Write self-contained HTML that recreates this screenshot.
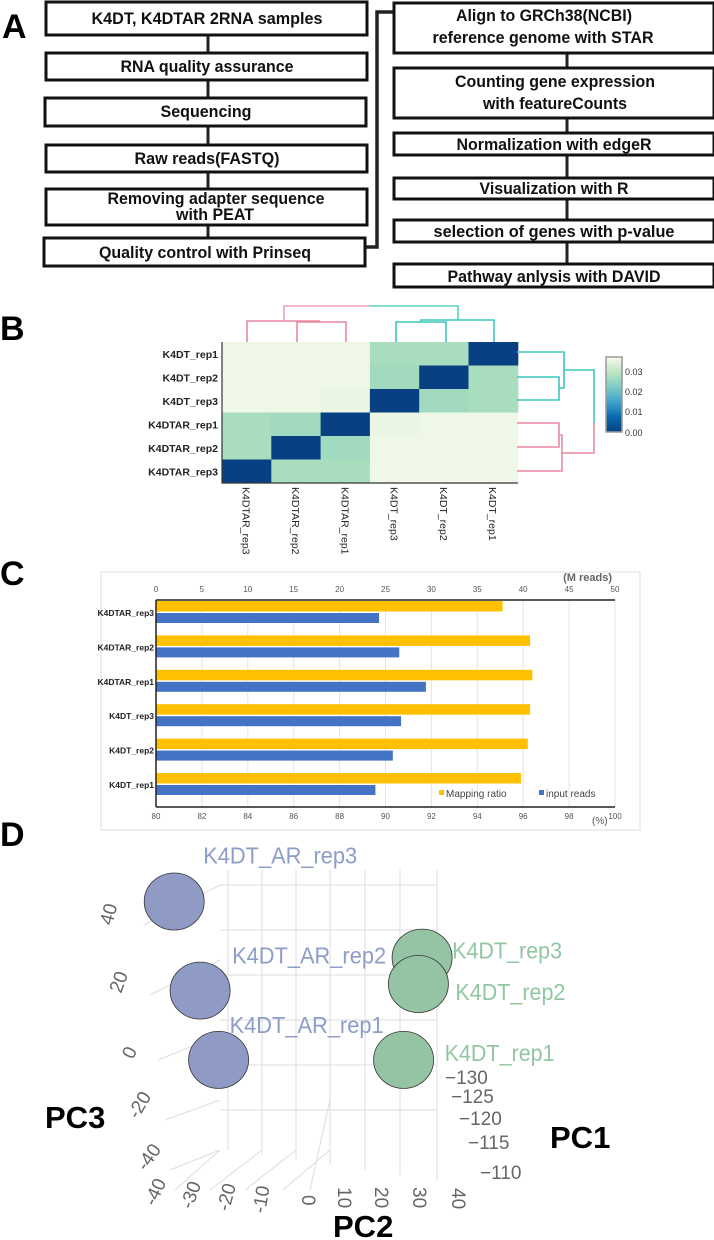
<!DOCTYPE html>
<html><head><meta charset="utf-8"><style>
html,body{margin:0;padding:0;background:#fff;}
svg{display:block;font-family:"Liberation Sans",Arial,sans-serif;}
.bx{fill:#fff;stroke:#111;stroke-width:3;}
.ft{font-weight:bold;font-size:17px;fill:#111;text-anchor:middle;}
</style></head><body>
<svg id="fig" width="714" height="1240" viewBox="0 0 714 1240">
<!-- Panel A -->
<g>
<text x="2" y="38" font-size="34" font-weight="bold">A</text>
<path d="M208 35V53M208 80V98M208 126V145M208 172V189M208 225V238M567 53V68M567 118V133M567 155V178M567 199V220M567 242V264" stroke="#222" stroke-width="3" fill="none"/>
<path d="M365 247H377V12H394" stroke="#222" stroke-width="3.5" fill="none"/>
<g><rect class="bx" x="46" y="2" width="321" height="33"/><text class="ft" x="207" y="24" textLength="231" lengthAdjust="spacingAndGlyphs">K4DT, K4DTAR 2RNA samples</text></g>
<g><rect class="bx" x="46" y="53" width="321" height="27"/><text class="ft" x="207" y="72" textLength="173" lengthAdjust="spacingAndGlyphs">RNA quality assurance</text></g>
<g><rect class="bx" x="45" y="98" width="321" height="28"/><text class="ft" x="206" y="117" textLength="91" lengthAdjust="spacingAndGlyphs">Sequencing</text></g>
<g><rect class="bx" x="46" y="145" width="321" height="27"/><text class="ft" x="207" y="164" textLength="145" lengthAdjust="spacingAndGlyphs">Raw reads(FASTQ)</text></g>
<g><rect class="bx" x="46" y="189" width="321" height="36"/><text class="ft" x="216" y="204" textLength="217" lengthAdjust="spacingAndGlyphs">Removing adapter sequence</text><text class="ft" x="215" y="220" textLength="78" lengthAdjust="spacingAndGlyphs">with PEAT</text></g>
<g><rect class="bx" x="44" y="238" width="321" height="28"/><text class="ft" x="205" y="258" textLength="212" lengthAdjust="spacingAndGlyphs">Quality control with Prinseq</text></g>
<g><rect class="bx" x="394" y="3" width="320" height="50"/><text class="ft" x="544" y="21" textLength="176" lengthAdjust="spacingAndGlyphs">Align to GRCh38(NCBI)</text><text class="ft" x="543" y="43" textLength="221" lengthAdjust="spacingAndGlyphs">reference genome with STAR</text></g>
<g><rect class="bx" x="394" y="68" width="320" height="50"/><text class="ft" x="555" y="87" textLength="200" lengthAdjust="spacingAndGlyphs">Counting gene expression</text><text class="ft" x="555" y="109" textLength="144" lengthAdjust="spacingAndGlyphs">with featureCounts</text></g>
<g><rect class="bx" x="394" y="133" width="320" height="22"/><text class="ft" x="554" y="150" textLength="195" lengthAdjust="spacingAndGlyphs">Normalization with edgeR</text></g>
<g><rect class="bx" x="394" y="178" width="320" height="21"/><text class="ft" x="554" y="194" textLength="149" lengthAdjust="spacingAndGlyphs">Visualization with R</text></g>
<g><rect class="bx" x="394" y="220" width="320" height="22"/><text class="ft" x="554" y="237" textLength="241" lengthAdjust="spacingAndGlyphs">selection of  genes with p-value</text></g>
<g><rect class="bx" x="394" y="264" width="320" height="23"/><text class="ft" x="554" y="282" textLength="213" lengthAdjust="spacingAndGlyphs">Pathway anlysis with DAVID</text></g>
</g>
<!-- Panel B -->
<text x="0" y="340" font-size="34" font-weight="bold">B</text>
<g id="heat"></g>
<g fill="none" stroke-width="1.6">
<path d="M284 321V306H370" stroke="#f0a0b4"/><path d="M370 306H458V320" stroke="#58d4c8"/>
<path d="M247 342V321H320M301 321V322M297 342V322H346V342" stroke="#e88aa0"/>
<path d="M396 342V322H446V342M421 322V320H494V342" stroke="#3cc8bc"/>
<path d="M517 352H564V388H559M517 377H559V400H517M564 370H594V423" stroke="#3cc8bc"/>
<path d="M517 423H559V447H517M559 435H562V471H517M562 453H594V423" stroke="#e88aa0"/>
</g>
<g>
<defs><linearGradient id="gnbu" x1="0" y1="1" x2="0" y2="0"><stop offset="0" stop-color="#084081"/><stop offset="0.2" stop-color="#0868ac"/><stop offset="0.4" stop-color="#43a2ca"/><stop offset="0.6" stop-color="#7bccc4"/><stop offset="0.8" stop-color="#bfe5c0"/><stop offset="1" stop-color="#f7fcf0"/></linearGradient></defs>
<rect x="606" y="357" width="16" height="75" fill="url(#gnbu)" stroke="#999" stroke-width="1.5"/>
<g font-size="9" fill="#333"><text x="625" y="375">0.03</text><text x="625" y="395">0.02</text><text x="625" y="415">0.01</text><text x="625" y="436">0.00</text></g>
</g>
<!-- Panel C -->
<text x="0" y="585" font-size="34" font-weight="bold">C</text>
<rect x="101" y="572" width="539" height="258" fill="none" stroke="#e2e2e2" stroke-width="1.2"/>
<g id="bars"></g>
<!-- Panel D -->
<text x="0" y="846" font-size="34" font-weight="bold">D</text>
<g stroke="#ddd" stroke-width="1" fill="none">
<path d="M220 885H437M220 930H437M220 975H437M220 1020H437M220 1065H437M220 1110H437"/>
<path d="M144 925L220 885M150 995L220 960M158 1060L220 1035M165 1120L220 1100M170 1170L220 1150"/>
<path d="M228 870V1150M262 870V1155M296 870V1160M330 870V1165M365 870V1170M400 870V1175M437 870V1180"/>
<path d="M175 1190L220 1150M210 1190L262 1150M245 1190L296 1150M283 1190L330 1150M310 1190L330 1100" />
</g>
<g id="pca"></g>
<g font-size="19" fill="#666">
<text transform="translate(112,926) rotate(-75)">40</text>
<text transform="translate(121,994) rotate(-70)">20</text>
<text transform="translate(133,1060) rotate(-65)">0</text>
<text transform="translate(138,1120) rotate(-60)">-20</text>
<text transform="translate(146,1172) rotate(-55)">-40</text>
<text transform="translate(155,1207) rotate(-65)">-40</text>
<text transform="translate(192,1210) rotate(-70)">-30</text>
<text transform="translate(229,1212) rotate(-75)">-20</text>
<text transform="translate(265,1214) rotate(-80)">-10</text>
<text transform="translate(302,1195) rotate(90)">0</text>
<text transform="translate(338,1187) rotate(90)">10</text>
<text transform="translate(375,1187) rotate(90)">20</text>
<text transform="translate(413,1187) rotate(90)">30</text>
<text transform="translate(452,1188) rotate(90)">40</text>
<text x="445" y="1084">−130</text><text x="451" y="1103">−125</text><text x="459" y="1125">−120</text><text x="468" y="1149">−115</text><text x="480" y="1179">−110</text>
</g>
<text x="45" y="1128" font-size="31" font-weight="bold">PC3</text>
<text x="550" y="1148" font-size="31" font-weight="bold">PC1</text>
<text x="333" y="1237" font-size="31" font-weight="bold">PC2</text>
</svg>
<script>
const NS="http://www.w3.org/2000/svg";
function mk(tag,attrs,parent){const e=document.createElementNS(NS,tag);for(const k in attrs)e.setAttribute(k,attrs[k]);parent.appendChild(e);return e;}
// ---- Heatmap data ----
const rowLabels=["K4DT_rep1","K4DT_rep2","K4DT_rep3","K4DTAR_rep1","K4DTAR_rep2","K4DTAR_rep3"];
const colLabels=["K4DTAR_rep3","K4DTAR_rep2","K4DTAR_rep1","K4DT_rep3","K4DT_rep2","K4DT_rep1"];
const distRow1=[0.035,0.035,0.035,0.024,0.024,0.000];
const distRow2=[0.035,0.035,0.035,0.023,0.000,0.024];
const distRow3=[0.035,0.035,0.034,0.000,0.023,0.024];
const distRow4=[0.024,0.023,0.000,0.034,0.035,0.035];
const distRow5=[0.024,0.000,0.023,0.035,0.035,0.035];
const distRow6=[0.000,0.024,0.024,0.035,0.035,0.035];
const distMatrix=[distRow1,distRow2,distRow3,distRow4,distRow5,distRow6];
// ---- Bar data ----
const barCats=["K4DTAR_rep3","K4DTAR_rep2","K4DTAR_rep1","K4DT_rep3","K4DT_rep2","K4DT_rep1"];
const mappingRatio=[95.1,96.3,96.4,96.3,96.2,95.9];
const inputReads=[24.3,26.5,29.4,26.7,25.8,23.9];
const topTicks=[0,5,10,15,20,25,30,35,40,45,50];
const bottomTicks=[80,82,84,86,88,90,92,94,96,98,100];
// ---- PCA data ----
const pcaLabels=["K4DT_AR_rep3","K4DT_AR_rep2","K4DT_AR_rep1","K4DT_rep3","K4DT_rep2","K4DT_rep1"];
const pcaGroup=["AR","AR","AR","DT","DT","DT"];
const pc2Vals=[-34,-27,-22,33,32,28];
const pc3Vals=[45,18,-3,28,20,-3];

// heatmap
(function(){
 const g=document.getElementById('heat');
 const x0=222,y0=342,cw=49.3,ch=23.5;
 const stops=[[0,[8,64,129]],[0.006,[8,104,172]],[0.012,[67,162,202]],[0.018,[123,204,196]],[0.024,[168,221,190]],[0.03,[215,238,208]],[0.036,[244,250,236]]];
 function col(v){for(let i=1;i<stops.length;i++){if(v<=stops[i][0]){const a=stops[i-1],b=stops[i],t=(v-a[0])/(b[0]-a[0]);return 'rgb('+a[1].map((c,j)=>Math.round(c+(b[1][j]-c)*t)).join(',')+')';}}return 'rgb(244,250,236)';}
 distMatrix.forEach((row,r)=>row.forEach((v,c)=>{
  const e=mk('rect',{x:x0+c*cw,y:y0+r*ch,width:cw+0.5,height:ch+0.5,fill:col(v)},g);
  
  
 }));
 mk('path',{d:`M${x0} ${y0}V${y0+6*ch}H${x0+6*cw}`,stroke:'#333','stroke-width':1.2,fill:'none'},g);
 rowLabels.forEach((l,r)=>{
  const t=mk('text',{x:x0-4,y:y0+r*ch+ch/2+4,'font-size':10.5,'font-weight':'bold','text-anchor':'end',fill:'#222'},g);t.textContent=l;
  
  
 });
 colLabels.forEach((l,c)=>{
  const cx=x0+c*cw+cw/2;
  const t=mk('text',{transform:`translate(${cx-4},${y0+6*ch+4}) rotate(90)`,'font-size':10.5,fill:'#222'},g);t.textContent=l;
  
  
 });
})();

// bars
(function(){
 const g=document.getElementById('bars');
 const xl=156,xr=615,yTop=600,yBot=807;
 const xReads=v=>xl+(v-0)/(50-0)*(xr-xl);
 const xPct=v=>xl+(v-80)/(100-80)*(xr-xl);
 topTicks.forEach(t=>{
  mk('line',{x1:xReads(t),x2:xReads(t),y1:yTop,y2:yBot,stroke:'#e4e4e4','stroke-width':1},g);
  const e=mk('text',{x:xReads(t),y:yTop-8,'font-size':8,'text-anchor':'middle',fill:'#555'},g);e.textContent=t;
  
  
 });
 bottomTicks.forEach(t=>{
  const e=mk('text',{x:xPct(t),y:yBot+12,'font-size':8,'text-anchor':'middle',fill:'#555'},g);e.textContent=t;
  
  
 });
 const u=mk('text',{x:612,y:581,'font-size':11,'font-weight':'bold','text-anchor':'end',fill:'#666'},g);u.textContent='(M reads)';
 const p=mk('text',{x:592,y:824,'font-size':10,fill:'#555'},g);p.textContent='(%)';
 const band=34.4;
 barCats.forEach((c,i)=>{
  const y=601+i*band;
  const r1=mk('rect',{x:xl,y:y,width:xPct(mappingRatio[i])-xl,height:10.5,fill:'#ffc000'},g);
  
  
  const r2=mk('rect',{x:xl,y:y+12,width:xReads(inputReads[i])-xl,height:10,fill:'#4472c4'},g);
  
  
  const t=mk('text',{x:xl-2,y:y+15,'font-size':8.5,'font-weight':'bold','text-anchor':'end',fill:'#222'},g);t.textContent=c;
  
  
 });
 mk('line',{x1:xl,x2:xr,y1:yTop,y2:yTop,stroke:'#222','stroke-width':1.5},g);
 mk('line',{x1:xl,x2:xr,y1:yBot,y2:yBot,stroke:'#222','stroke-width':1.5},g);
 mk('line',{x1:xl,x2:xl,y1:yTop,y2:yBot,stroke:'#222','stroke-width':1.5},g);
 const lg=mk('g',{},g);
 
 
 mk('rect',{x:439,y:790,width:5,height:5,fill:'#ffc000'},lg);
 const l1=mk('text',{x:446,y:797,'font-size':10,fill:'#444'},lg);l1.textContent='Mapping ratio';
 mk('rect',{x:539,y:790,width:5,height:5,fill:'#4472c4'},lg);
 const l2=mk('text',{x:546,y:797,'font-size':10,fill:'#444'},lg);l2.textContent='input reads';
})();

// PCA
(function(){
 const g=document.getElementById('pca');
 const xs=v=>300+v*3.7;
 const ys=v=>1050-v*3.3;
 const labelDx=[29,32,11,30,37,41];
 const labelDy=[-38,-27,-27,1,16,1];
 const order=[0,1,2,5,3,4];
 order.forEach(i=>{
  const ar=pcaGroup[i]==='AR';
  const e=mk('ellipse',{cx:xs(pc2Vals[i]),cy:ys(pc3Vals[i]),rx:30,ry:28.5,fill:ar?'#8f9bc4':'#94c4a4',stroke:'#333','stroke-width':0.8},g);
  
  
 });
 pcaLabels.forEach((l,i)=>{
  const ar=pcaGroup[i]==='AR';
  const x=xs(pc2Vals[i]), y=ys(pc3Vals[i]);
  const t=mk('text',{x:x+labelDx[i],y:y+labelDy[i],'font-size':23,fill:ar?'#8e9cc8':'#92c6a2',textLength:ar?154:110,lengthAdjust:'spacingAndGlyphs'},g);t.textContent=l;
  
  
 });
})();
</script>
</body></html>
